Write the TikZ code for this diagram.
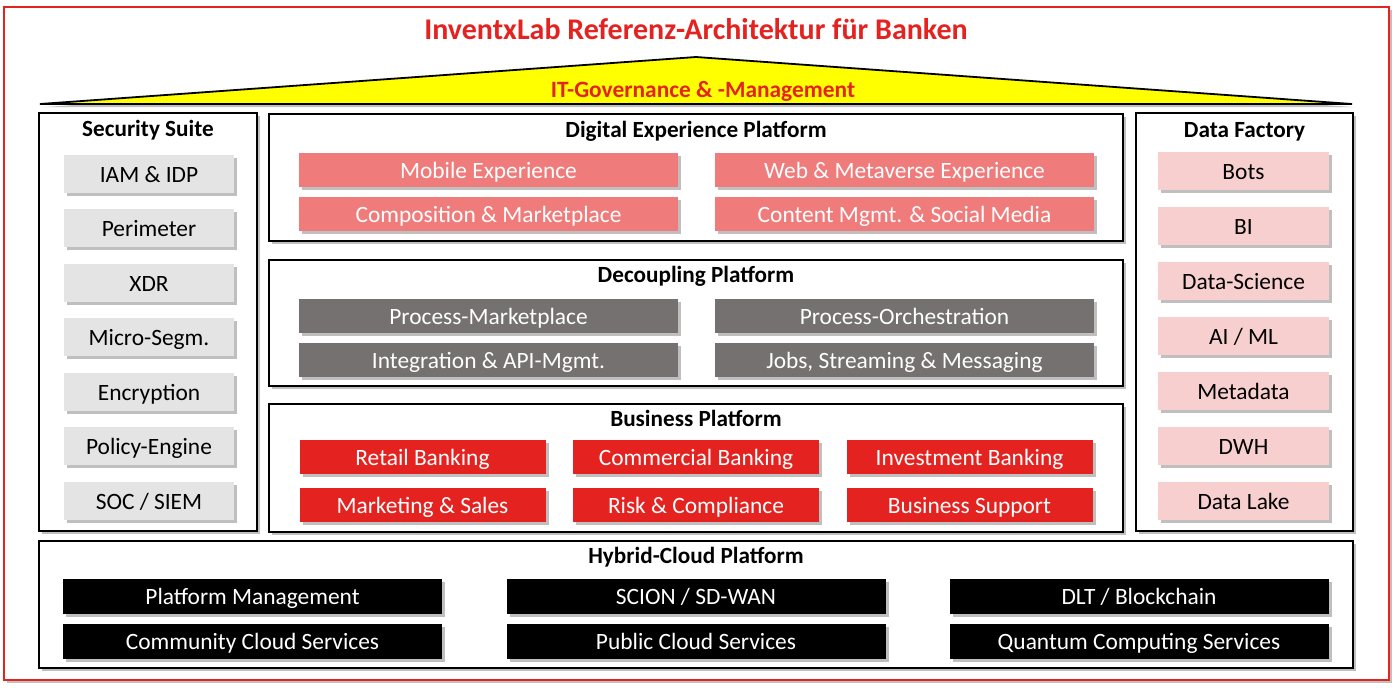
\documentclass[tikz,border=0pt]{standalone}
\usepackage{fontspec}
\setmainfont{Carlito}
\usepackage{tikz}
\usetikzlibrary{shadows,positioning}
\definecolor{ixred}{HTML}{E42320}
\definecolor{ixsalmon}{HTML}{EF7B7B}
\definecolor{ixgrey}{HTML}{767171}
\definecolor{ixpink}{HTML}{F8CFCF}
\definecolor{ixlight}{HTML}{E4E4E4}
\definecolor{ixyellow}{HTML}{FFFF00}
\tikzset{
  shd/.style={drop shadow={shadow xshift=1.6pt,shadow yshift=-1.6pt,fill=black!45,opacity=0.55}},
  panel/.style={draw=black,line width=0.9pt,fill=white,shd,inner sep=0pt},
  head/.style={font=\fontsize{11.6}{13}\selectfont\bfseries,text height=0.8em,text depth=0em},
  item/.style={inner sep=0pt,shd,font=\fontsize{11.7}{13}\selectfont,text height=0.8em,text depth=0em},
  secbox/.style={item,fill=ixlight,minimum width=85pt,minimum height=19pt},
  databox/.style={item,fill=ixpink,minimum width=85.5pt,minimum height=19pt},
  dxpbox/.style={item,fill=ixsalmon,text=white,minimum width=189.5pt,minimum height=17pt},
  decbox/.style={item,fill=ixgrey,text=white,minimum width=189.5pt,minimum height=17pt},
  busbox/.style={item,fill=ixred,text=white,minimum width=123pt,minimum height=17pt},
  hybbox/.style={item,fill=black,text=white,minimum width=189.5pt,minimum height=17.5pt},
}

\begin{document}
\begin{tikzpicture}[x=0.5pt,y=-0.5pt]
\useasboundingbox (0,0) rectangle (1400,692);
% frame and roof
\node[draw=ixred,line width=0.8pt,fill=white,shd,inner sep=0pt,minimum width=692.5pt,minimum height=336.5pt] (frame) at (696.5,343.5) {};
\node[font=\fontsize{15}{17}\selectfont\bfseries,text=ixred,text height=0.8em,text depth=0em] (title) at (696,31) {InventxLab Referenz-Architektur für Banken};
\draw[fill=ixyellow,line width=0.9pt,shd] (40,104) -- (696,57) -- (1352,104) -- cycle;
\node[font=\fontsize{11.7}{13}\selectfont\bfseries,text=ixred,text height=0.8em,text depth=0em] (gov) at (703,89) {IT-Governance \& -Management};

% Security Suite
\node[panel,minimum width=109pt,minimum height=209pt] (sec) at (148,322) {};
\node[head] (sectitle) at (148,128) {Security Suite};
\node[secbox] (iam) at (149,174) {IAM \& IDP};
\node[secbox] (peri) at (149,228) {Perimeter};
\node[secbox] (xdr) at (149,283) {XDR};
\node[secbox] (mseg) at (149,337) {Micro-Segm.};
\node[secbox] (enc) at (149,392) {Encryption};
\node[secbox] (pol) at (149,446) {Policy-Engine};
\node[secbox] (soc) at (149,501) {SOC / SIEM};

% Digital Experience Platform
\node[panel,minimum width=427pt,minimum height=63.5pt] (dxp) at (696,177.5) {};
\node[head] (dxptitle) at (696,129) {Digital Experience Platform};
\node[dxpbox] (mob) at (488.5,170) {Mobile Experience};
\node[dxpbox] (web) at (904.5,170) {Web \& Metaverse Experience};
\node[dxpbox] (comp) at (488.5,214) {Composition \& Marketplace};
\node[dxpbox] (cms) at (904.5,214) {Content Mgmt. \& Social Media};

% Decoupling Platform
\node[panel,minimum width=427pt,minimum height=63pt] (dec) at (696,323) {};
\node[head] (dectitle) at (696,274) {Decoupling Platform};
\node[decbox] (pmkt) at (488.5,316) {Process-Marketplace};
\node[decbox] (porch) at (904.5,316) {Process-Orchestration};
\node[decbox] (api) at (488.5,360) {Integration \& API-Mgmt.};
\node[decbox] (jobs) at (904.5,360) {Jobs, Streaming \& Messaging};

% Business Platform
\node[panel,minimum width=427pt,minimum height=64pt] (bus) at (696,468) {};
\node[head] (bustitle) at (696,418) {Business Platform};
\node[busbox] (retail) at (422.5,457) {Retail Banking};
\node[busbox] (comm) at (696,457) {Commercial Banking};
\node[busbox] (inv) at (969.5,457) {Investment Banking};
\node[busbox] (mkt) at (422.5,505) {Marketing \& Sales};
\node[busbox] (risk) at (696,505) {Risk \& Compliance};
\node[busbox] (supp) at (969.5,505) {Business Support};

% Data Factory
\node[panel,minimum width=108.5pt,minimum height=209pt] (data) at (1244.5,322) {};
\node[head] (datatitle) at (1244.5,129) {Data Factory};
\node[databox] (bots) at (1243.5,171) {Bots};
\node[databox] (bi) at (1243.5,226) {BI};
\node[databox] (dsci) at (1243.5,281) {Data-Science};
\node[databox] (aiml) at (1243.5,336) {AI / ML};
\node[databox] (meta) at (1243.5,391) {Metadata};
\node[databox] (dwh) at (1243.5,446) {DWH};
\node[databox] (lake) at (1243.5,501) {Data Lake};

% Hybrid-Cloud Platform
\node[panel,minimum width=657pt,minimum height=63.5pt] (hyb) at (696,604.5) {};
\node[head] (hybtitle) at (696,555) {Hybrid-Cloud Platform};
\node[hybbox] (pman) at (252.5,596) {Platform Management};
\node[hybbox] (scion) at (696,596) {SCION / SD-WAN};
\node[hybbox] (dlt) at (1139,596) {DLT / Blockchain};
\node[hybbox] (ccs) at (252.5,641) {Community Cloud Services};
\node[hybbox] (pcs) at (696,641) {Public Cloud Services};
\node[hybbox] (qcs) at (1139,641) {Quantum Computing Services};
\end{tikzpicture}
\end{document}
